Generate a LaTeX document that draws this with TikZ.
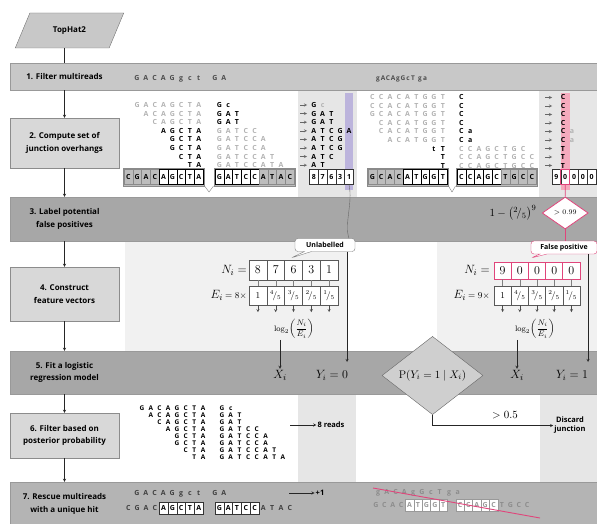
\documentclass[tikz,border=0pt]{standalone}
\usepackage{amsmath, amssymb}
\usepackage{fontspec}
\usepackage{tikz}
\usetikzlibrary{shapes.geometric, shapes.callouts, positioning, calc}
\newfontfamily\lbl{Open Sans}
\newcommand{\stepfont}{\lbl\bfseries\fontsize{8}{12.5}\selectfont}
\newcommand{\sdx}{8.8}
\newcommand{\fr}[1]{{}^{#1}\!/_{5}}
% one row of bases, #2 = x of the first base
\newcommand{\seqrow}[4][nt]{\foreach \c [count=\k from 0] in {#4}{\node[#1] at ({#2+\k*\sdx},#3) {\c};}}
% boxed reference bases, letter/colour pairs
\newcommand{\refseq}[3]{\foreach \c/\f [count=\k from 0] in {#3}{\node[rbox, fill=box\f, draw=line\f] at ({#1+\k*\sdx},#2) {\c};}}

\definecolor{bandlight}{HTML}{C8C8C8}
\definecolor{banddark}{HTML}{A7A7A7}
\definecolor{bandmid}{HTML}{B4B4B4}
\definecolor{boxfill}{HTML}{D8D8D8}
\definecolor{diafill}{HTML}{CFCFCF}
\definecolor{panel}{HTML}{E6E6E6}
\definecolor{panelpale}{HTML}{F1F1F1}
\definecolor{pinkline}{HTML}{E0457B}
\definecolor{strippink}{HTML}{F5AABD}
\definecolor{striplav}{HTML}{BCB4DC}
\definecolor{boxg}{HTML}{BDBDBD}
\definecolor{lineg}{HTML}{8A8A8A}
\colorlet{boxw}{white}
\colorlet{linew}{black}

\begin{document}
\begin{tikzpicture}[x=1pt, y=-1pt, >=stealth,
  band/.style={draw=black!40, minimum width=587, minimum height=#1, inner sep=0pt},
  stepbox/.style={draw=black!45, fill=boxfill, minimum width=109, align=center, font=\stepfont, inner sep=0pt},
  steplbl/.style={align=center, font=\stepfont, inner sep=0pt},
  flow/.style={->, black!85},
  nt/.style={font=\lbl\bfseries\fontsize{7}{7}\selectfont, inner sep=0pt, text height=5pt, text depth=0pt},
  ft/.style={nt, text=black!30},
  st/.style={nt, font=\lbl\bfseries\fontsize{6.5}{7}\selectfont},
  rbox/.style={nt, minimum width=\sdx, minimum height=15},
  cbox/.style={rbox, draw=black!80, fill=white},
  fbox/.style={rbox, draw=black!40, fill=white, text=black!40, minimum height=12},
  nbox/.style={draw=black!65, fill=white, minimum width=17.8, minimum height=20, inner sep=0pt, font=\fontsize{13}{15}\selectfont},
  ebox/.style={nbox, minimum height=19, font=\fontsize{9}{10}\selectfont},
  callbox/.style={rectangle callout, rounded corners=3pt, fill=white, inner sep=2pt, minimum height=13, font=\lbl\bfseries\fontsize{7}{8}\selectfont},
  note/.style={font=\lbl\bfseries\fontsize{7.5}{9}\selectfont, align=center, inner sep=1pt},
  mth/.style={font=\fontsize{12}{14}\selectfont, inner sep=1pt}
]
\useasboundingbox (0,0) rectangle (597,524);

% --- LAYER 1: light panels behind the columns ---
\fill[panel] (298,90) rectangle (357,197);
\fill[panel] (539,90) rectangle (597,197);
\fill[panelpale] (125,241) rectangle (348,351);
\fill[panelpale] (437,241) rectangle (597,351);
\fill[panel] (298,394) rectangle (356,482);
\fill[panel] (540,394) rectangle (597,482);
\fill[striplav] (344.6,93) rectangle (353.4,190);
\fill[strippink] (560.8,93) rectangle (569.6,190);

% --- LAYER 2: bands and step boxes ---
\node[band=27, fill=bandlight] (b1) at (303.5,76.5) {};
\node[band=44, fill=banddark] (b3) at (303.5,219) {};
\node[band=43, fill=banddark] (b5) at (303.5,372.5) {};
\node[band=42, fill=bandmid] (b7) at (303.5,503) {};

\node[trapezium, trapezium left angle=63, trapezium right angle=117, trapezium stretches=true,
  minimum width=109, minimum height=35, draw=black!55, fill=bandlight, font=\stepfont] (top) at (69.5,30.5) {TopHat2};
\node[steplbl] (l1) at (64.5,77) {1. Filter multireads};
\node[stepbox, minimum height=50] (s2) at (64.5,143) {2. Compute set of\\junction overhangs};
\node[steplbl] (l3) at (64.5,219) {3. Label potential\\false positives};
\node[stepbox, minimum height=54] (s4) at (64.5,294) {4. Construct\\feature vectors};
\node[steplbl] (l5) at (64.5,372.5) {5. Fit a logistic\\regression model};
\node[stepbox, minimum height=45] (s6) at (64.5,435.5) {6. Filter based on\\posterior probability};
\node[steplbl] (l7) at (64.5,504) {7. Rescue multireads\\with a unique hit};

\draw[black!85] (s2 |- top.south) -- (s2 |- b1.north);
\draw[flow] (s2 |- b1.south) -- (s2.north);
\draw[flow] (s2.south) -- (s2 |- b3.north);
\draw[flow] (s4 |- b3.south) -- (s4.north);
\draw[flow] (s4.south) -- (s4 |- b5.north);
\draw[flow] (s6 |- b5.south) -- (s6.north);
\draw[flow] (s6.south) -- (s6 |- b7.north);

% --- LAYER 3: multireads ---
\seqrow[nt, text=black!70]{137}{78}{G,A,C,A,G,g,c,t}
\seqrow[nt, text=black!70]{215}{78}{G,A}
\begin{scope}
\renewcommand{\sdx}{5}
\seqrow[st, text=black!70]{378}{78}{g,A,C,A,g,G,c,T}
\seqrow[st, text=black!70]{420}{78}{g,a}
\end{scope}

% --- LAYER 4: overhangs, left junction ---
\seqrow[ft]{137.2}{105}{G,A,C,A,G,C,T,A}
\seqrow[ft]{146}{113.6}{A,C,A,G,C,T,A}
\seqrow[ft]{154.8}{122.2}{C,A,G,C,T,A}
\seqrow{163.6}{130.8}{A,G,C,T,A}
\seqrow{172.4}{139.4}{G,C,T,A}
\seqrow{172.4}{148}{G,C,T,A}
\seqrow{181.2}{156.6}{C,T,A}
\seqrow{190}{165.2}{T,A}
\seqrow{219.4}{105}{G,c}
\seqrow{219.4}{113.6}{G,A,T}
\seqrow{219.4}{122.2}{G,A,T}
\seqrow[ft]{219.4}{130.8}{G,A,T,C,C}
\seqrow[ft]{219.4}{139.4}{G,A,T,C,C,A}
\seqrow[ft]{219.4}{148}{G,A,T,C,C,A}
\seqrow[ft]{219.4}{156.6}{G,A,T,C,C,A,T}
\seqrow[ft]{219.4}{165.2}{G,A,T,C,C,A,T,A}
\draw[lineg, fill=boxg] (123,168) rectangle (204.2,186);
\refseq{128.4}{177}{C/g,G/g,A/g,C/g,A/w,G/w,C/w,T/w,A/w}
\draw[lineg, fill=boxg] (214,168) rectangle (295.2,186);
\refseq{219.4}{177}{G/w,A/w,T/w,C/w,C/w,A/g,T/g,A/g,C/g}
\draw[black!50] (204.5,186) -- (209,192) -- (213.5,186);

\foreach \k in {0,...,7} \draw[->, black!60] (300,{105+8.6*\k}) -- ++(7,0);
\seqrow{313.8}{105}{G}
\node[ft] (cfaint) at (322.6,105) {c};
\seqrow{313.8}{113.6}{G,A,T}
\seqrow{313.8}{122.2}{G,A,T}
\seqrow{313.8}{130.8}{A,T,C,G,A}
\seqrow{313.8}{139.4}{A,T,C,G}
\seqrow{313.8}{148}{A,T,C,G}
\seqrow{313.8}{156.6}{A,T,C}
\seqrow{313.8}{165.2}{A,T}
\foreach \v [count=\k] in {8,7,6,3,1} \node[cbox] (ca\k) at ({305+\k*8.8},177) {\v};

% --- LAYER 5: overhangs, right junction ---
\seqrow[ft]{372.4}{97.5}{C,C,A,C,A,T,G,G,T}
\seqrow[ft]{372.4}{106}{C,C,A,C,A,T,G,G,T}
\seqrow[ft]{372.4}{114.5}{G,C,A,C,A,T,G,G,T}
\seqrow[ft]{381.2}{123}{C,A,C,A,T,G,G,T}
\seqrow[ft]{381.2}{131.5}{C,A,C,A,T,G,G,T}
\seqrow[ft]{390}{140}{A,C,A,T,G,G,T}
\seqrow{434}{148.5}{t,T}
\seqrow{442.8}{157}{T}
\seqrow{442.8}{165.5}{T}
\foreach \yy in {97.5,106,114.5,123} \node[nt] at (461.4,\yy) {C};
\seqrow{461.4}{131.5}{C,a}
\seqrow{461.4}{140}{C,a}
\seqrow[ft]{461.4}{148.5}{C,C,A,G,C,T,G,C}
\seqrow[ft]{461.4}{157}{C,C,A,G,C,T,G,C,C}
\seqrow[ft]{461.4}{165.5}{C,C,A,G,C,T,G,C,C}
\draw[lineg, fill=boxg] (367,168) rectangle (448.2,186);
\refseq{372.4}{177}{G/g,C/g,A/g,C/g,A/w,T/w,G/w,G/w,T/w}
\draw[lineg, fill=boxg] (456,168) rectangle (537.2,186);
\refseq{461.4}{177}{C/w,C/w,A/w,G/w,C/w,T/g,G/g,C/g,C/g}
\draw[black!50] (448.5,186) -- (452,192) -- (455.5,186);

\foreach \k in {0,...,8} \draw[->, black!60] (545,{97.5+8.5*\k}) -- ++(7,0);
\foreach \c [count=\k from 0] in {C,C,C,C,C,C,T,T,T} \node[nt] at (563,{97.5+8.5*\k}) {\c};
\node[ft] (afaint1) at (572,131.5) {a};
\node[ft] (afaint2) at (572,140) {a};
\foreach \v [count=\k] in {9,0,0,0,0} \node[cbox] (cb\k) at ({547.6+\k*8.8},177) {\v};
\draw[pinkline, line width=0.8pt] (cb2.south west) rectangle (cb2.north east);

% --- LAYER 6: labels of step 3 ---
\node[callbox, draw=black!50, minimum width=60, callout absolute pointer={(291,258)}] (unl) at (325,245) {Unlabelled};
\draw[black!60] (ca5.south) .. controls +(4,18) and +(-5,-14) .. (unl.north -| ca5);
\node[mth, font=\fontsize{11}{13}\selectfont] (prob) at (513,213) {$1-\left({}^{2}\!/_{5}\right)^{9}$};
\node[diamond, draw=pinkline, line width=0.8pt, fill=white, minimum width=46, minimum height=32, inner sep=0pt,
  font=\fontsize{7.5}{8}\selectfont] (thr) at (565.2,213) {$>0.99$};
\node[callbox, draw=pinkline, minimum width=66, callout absolute pointer={(531,258)}] (fp) at (564,247.5) {False positive};
\draw[pinkline, line width=0.7pt] (cb2.south) -- (thr.north);
\draw[pinkline, line width=0.7pt] (thr.south) -- (thr.south |- fp.north);

% --- LAYER 7: feature vectors ---
\node[mth, anchor=east, font=\fontsize{13}{15}\selectfont] (nlab) at (248,270) {$N_i=$};
\node[mth, anchor=east] (elab) at (248,295.5) {\fontsize{13}{15}\selectfont$E_i$\,\fontsize{9}{10}\selectfont$=8\times$};
\foreach \v [count=\k] in {8,7,6,3,1} \node[nbox] (nl\k) at ({249+17.8*(\k-0.5)},270) {$\v$};
\foreach \v [count=\k] in {1,\fr4,\fr3,\fr2,\fr1} \node[ebox] (el\k) at ({249+17.8*(\k-0.5)},295.5) {$\v$};
\node[mth, font=\fontsize{8}{9}\selectfont] (lgl) at (294,329) {$\log_2\!\left(\dfrac{N_i}{E_i}\right)$};

\node[mth, anchor=east, font=\fontsize{13}{15}\selectfont] (nlabr) at (491,270) {$N_i=$};
\node[mth, anchor=east] (elabr) at (491,295.5) {\fontsize{13}{15}\selectfont$E_i$\,\fontsize{9}{10}\selectfont$=9\times$};
\foreach \v [count=\k] in {9,0,0,0,0} \node[nbox, draw=pinkline, minimum height=17] (nr\k) at ({494+17.2*(\k-0.5)},270.5) {$\v$};
\foreach \v [count=\k] in {1,\fr4,\fr3,\fr2,\fr1} \node[ebox, minimum width=17.2] (er\k) at ({494+17.2*(\k-0.5)},295.5) {$\v$};
\node[mth, font=\fontsize{8}{9}\selectfont] (lgr) at (535,329) {$\log_2\!\left(\dfrac{N_i}{E_i}\right)$};

\foreach \k in {1,...,5} {
  \draw[black!50] (nl\k.south) -- (el\k.north);
  \draw[black!50] (nr\k.south) -- (er\k.north);
  \draw[->, black!70] (el\k.south) -- ++(0,7);
  \draw[->, black!70] (er\k.south) -- ++(0,7);
}

% --- LAYER 8: logistic regression ---
\node[mth, font=\fontsize{13}{15}\selectfont] (xl) at (280,375) {$X_i$};
\node[mth] (y0) at (332,375) {$Y_i=0$};
\node[diamond, draw=black!60, fill=diafill, minimum width=101, minimum height=65, inner sep=0pt,
  font=\fontsize{11}{13}\selectfont] (pd) at (432.5,375.5) {$\mathrm{P}(Y_i = 1\mid X_i)$};
\node[mth, font=\fontsize{13}{15}\selectfont] (xr) at (517,375) {$X_i$};
\node[mth] (y1) at (572,375) {$Y_i=1$};
\coordinate (y0top) at (347,362);
\coordinate (y1top) at (588,362);
\draw[flow] (unl.south -| y0top) -- (y0top);
\draw[flow] (fp.south -| y1top) -- (y1top);
\draw[flow] (lgl.south -| xl) -- (xl.north);
\draw[flow] (lgr.south -| xr) -- (xr.north);

% --- LAYER 9: posterior filter ---
\begin{scope}
\renewcommand{\sdx}{8.7}
\seqrow[st]{142.1}{408}{G,A,C,A,G,C,T,A}
\seqrow[st]{150.8}{415}{A,C,A,G,C,T,A}
\seqrow[st]{159.5}{422}{C,A,G,C,T,A}
\seqrow[st]{168.2}{429}{A,G,C,T,A}
\seqrow[st]{176.9}{436}{G,C,T,A}
\seqrow[st]{176.9}{443}{G,C,T,A}
\seqrow[st]{185.6}{450}{C,T,A}
\seqrow[st]{194.3}{457}{T,A}
\seqrow[st]{222}{408}{G,c}
\seqrow[st]{222}{415}{G,A,T}
\seqrow[st]{222}{422}{G,A,T}
\seqrow[st]{222}{429}{G,A,T,C,C}
\seqrow[st]{222}{436}{G,A,T,C,C,A}
\seqrow[st]{222}{443}{G,A,T,C,C,A}
\seqrow[st]{222}{450}{G,A,T,C,C,A,T}
\seqrow[st]{222}{457}{G,A,T,C,C,A,T,A}
\end{scope}
\coordinate (rd) at (290,425);
\node[note] (rds) at (331,425) {8 reads};
\draw[flow] (rd) -- (rds.west);
\node[note] (disc) at (570,425.5) {Discard\\junction};
\draw[flow] (pd.south) |- (disc.west);
\node[mth, font=\fontsize{11}{13}\selectfont] (gt) at (505,415) {$>0.5$};

% --- LAYER 10: rescue ---
\seqrow[nt, text=black!75]{137}{493}{G,A,C,A,G,g,c,t}
\seqrow[nt, text=black!75]{215}{493}{G,A}
\seqrow[nt, text=black!75]{128.4}{508}{C,G,A,C}
\foreach \c [count=\k from 0] in {A,G,C,T,A} \node[cbox, minimum height=12] at ({163.6+\k*8.8},508) {\c};
\foreach \c [count=\k from 0] in {G,A,T,C,C} \node[cbox, minimum height=12] at ({219.4+\k*8.8},508) {\c};
\seqrow[nt, text=black!75]{263.4}{508}{A,T,A,C}
\coordinate (pl) at (289,493);
\node[note] (plus) at (320,493) {+1};
\draw[flow] (pl) -- (plus.west);

\seqrow[ft, text=black!45]{378}{492}{g,A,C,A,g,G,c,T}
\seqrow[ft, text=black!45]{449}{492}{g,a}
\begin{scope}
\renewcommand{\sdx}{8.4}
\seqrow[ft, text=black!45]{376}{505}{G,C,A,C}
\foreach \c [count=\k from 0] in {A,T,G,G,T} \node[fbox] at ({409.6+\k*8.4},505) {\c};
\foreach \c [count=\k from 0] in {C,C,A,G,C} \node[fbox] at ({460+\k*8.4},505) {\c};
\seqrow[ft, text=black!45]{502}{505}{T,G,C,C}
\end{scope}
\draw[pinkline, line width=0.9pt] (373,488) -- (540,518);
\end{tikzpicture}
\end{document}
